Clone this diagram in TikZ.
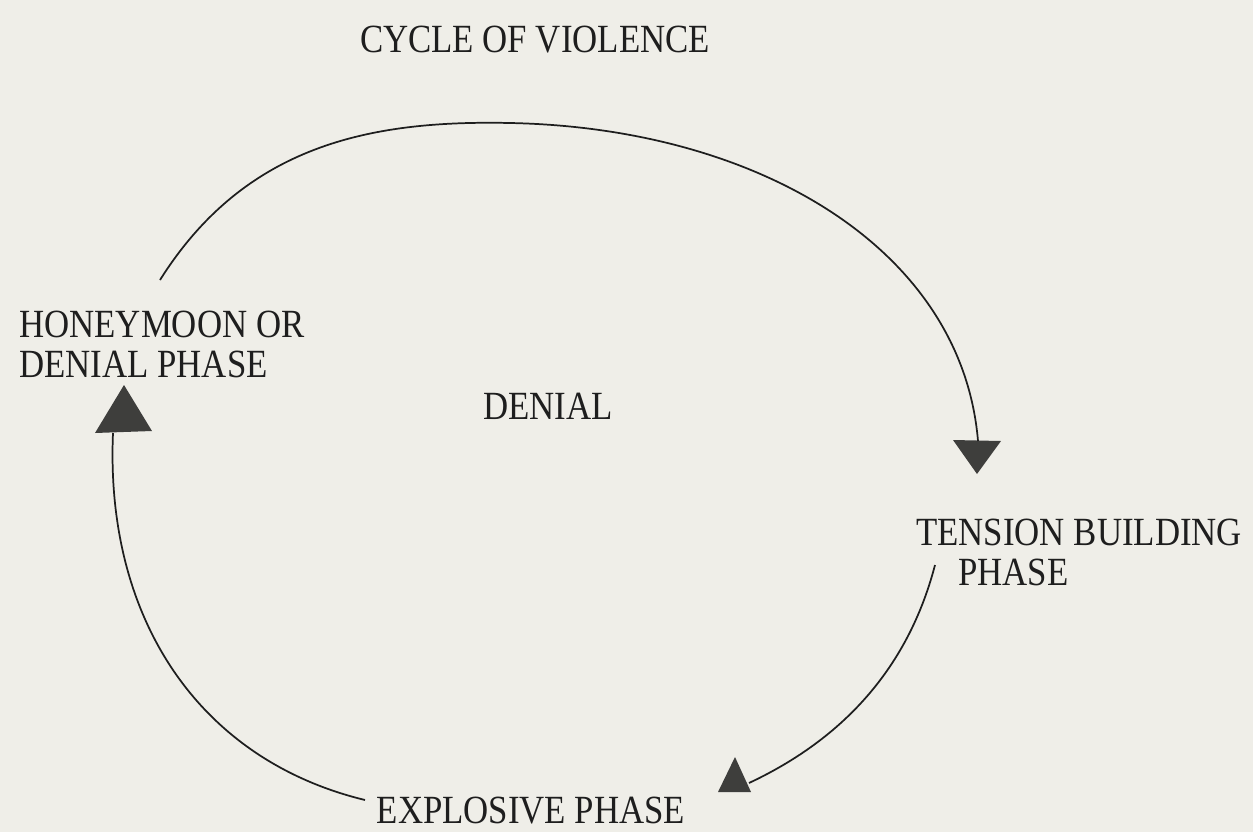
\documentclass[tikz,border=0pt]{standalone}
\usepackage{fontspec}
\setmainfont{Liberation Serif}[FakeStretch=0.87]
\usetikzlibrary{positioning}
\definecolor{paper}{RGB}{239,238,232}
\definecolor{ink}{RGB}{30,30,30}
\definecolor{headfill}{RGB}{62,62,60}

\begin{document}
\begin{tikzpicture}[x=0.75pt,y=0.75pt,yscale=-1,xscale=1,
	phase/.style={inner sep=0.75pt, text=ink, font=\fontsize{30}{30}\selectfont},
	arc/.style={draw=ink, line width=1.3pt},
	head/.style={fill=headfill}]
	%set diagram to 1253 x 832
	\fill[paper] (0,0) rectangle (1253,832);
	\useasboundingbox (0,0) rectangle (1253,832);

	% Text Node
	\node[phase] (title) at (535,40) {CYCLE OF VIOLENCE};
	% Text Node
	\node[phase, anchor=west, align=left] (honeymoon) at (18,344) {HONEYMOON OR\\DENIAL PHASE};
	% Text Node
	\node[phase] (denial) at (548,406) {DENIAL};
	% Text Node
	\node[phase, anchor=west, align=left] (tension) at (915,552) {TENSION BUILDING\\\hspace*{1.05em}PHASE};
	% Text Node
	\node[phase] (explosive) at (531,811) {EXPLOSIVE PHASE};

	% Arrow heads
	\coordinate (tipL) at (124,385);
	\fill[head] (tipL) -- ++(-29,48) -- ++(57,-2) -- cycle;
	\coordinate (tipT) at (977,474);
	\fill[head] (tipT) -- ++(-24,-34) -- ++(48,1) -- cycle;
	\coordinate (tipB) at (735,757);
	\fill[head] (tipB) -- ++(-17,35) -- ++(33,0) -- cycle;

	% Ends of the arcs
	\coordinate (startT) at (160,280);
	\coordinate (topT) at (510,123);
	\coordinate (endT) at (978,441);
	\coordinate (startB) at (935,565);
	\coordinate (endB) at (749,783);
	\coordinate (startL) at (365,800);
	\coordinate (endL) at (113,433);

	% Connection
	\draw[arc] (startT) .. controls (245,145) and (370,120) .. (topT)
		.. controls (760,128) and (962,250) .. (endT);
	% Connection
	\draw[arc] (startB) .. controls (905,680) and (830,745) .. (endB);
	% Connection
	\draw[arc] (startL) .. controls (200,760) and (105,620) .. (endL);

\end{tikzpicture}
\end{document}
